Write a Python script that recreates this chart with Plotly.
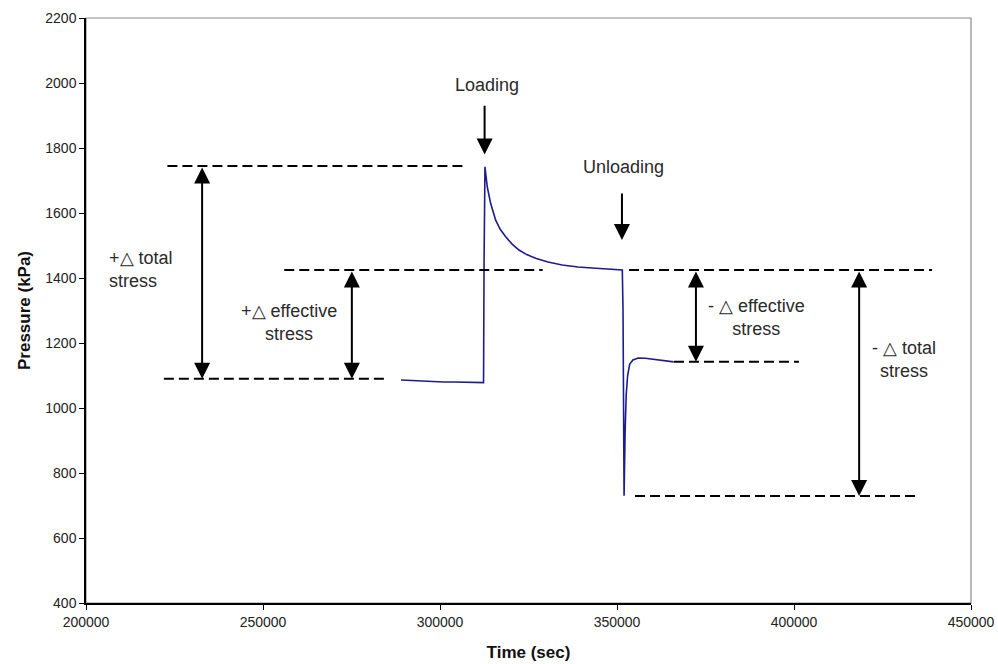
import plotly.graph_objects as go

# Measured pressure record (time in s, pressure in kPa)
time_s = [289000, 292000, 295000, 298000, 301000, 304000, 307000, 310000, 312300,
          312450, 312700, 313360, 314320, 315730, 317000, 318560, 320300, 322300,
          324500, 327000, 330500, 334500, 339000, 344000, 348000, 351500,
          351700, 351800, 352000, 352300, 352600, 353000, 353600,
          354500, 356000, 358000, 360000, 362000, 364000, 366000]
pressure_kpa = [1086, 1084, 1083, 1081, 1080, 1080, 1079, 1078, 1078,
                1450, 1742, 1680, 1629, 1578, 1550, 1527, 1505, 1486,
                1472, 1461, 1449, 1440, 1434, 1430, 1427, 1425,
                1300, 1050, 730, 930, 1040, 1100, 1135,
                1148, 1154, 1153, 1150, 1147, 1144, 1142]

# Reference levels (kPa) and their horizontal extents (s)
level_values = [1745, 1090, 1425, 1425, 1142, 729]
level_starts = [223000, 222000, 256000, 353400, 366100, 355100]
level_ends = [306800, 285000, 329000, 439000, 401400, 435500]

# Double-headed arrows: x position, top value, bottom value
arrow_x = [232800, 275100, 372300, 418400]
arrow_top = [1745, 1425, 1425, 1425]
arrow_bottom = [1090, 1090, 1142, 729]

# Event arrows (single, pointing down)
event_labels = ["Loading", "Unloading"]
event_x = [312600, 351400]
event_label_x = [313200, 351700]
event_label_y = [1994, 1742]
event_arrow_from = [1935, 1665]
event_arrow_to = [1780, 1517]

# Delta labels
delta_labels = ["+△ total<br>stress", "+△ effective<br>stress",
                "- △ effective<br>stress", "- △ total<br>stress"]
delta_x = [206000, 257300, 389300, 431200]
delta_y = [1425, 1262, 1280, 1148]
delta_align = ["left", "center", "center", "center"]
delta_xanchor = ["left", "center", "center", "center"]

FONT = "Liberation Sans, Arial"

fig = go.Figure()
fig.add_trace(go.Scatter(x=time_s, y=pressure_kpa, mode="lines",
                         line=dict(color="#1c1c8e", width=1.6),
                         showlegend=False, hoverinfo="skip"))

shapes = []
# plot frame (top/right gray)
shapes.append(dict(type="rect", xref="paper", yref="paper", x0=0, x1=1, y0=0, y1=1,
                   line=dict(color="#8a8a8a", width=1.2), layer="below"))
for v, a, b in zip(level_values, level_starts, level_ends):
    shapes.append(dict(type="line", xref="x", yref="y", x0=a, x1=b, y0=v, y1=v,
                       line=dict(color="black", width=2, dash="10px,5px")))

annotations = []
for x, t, b in zip(arrow_x, arrow_top, arrow_bottom):
    annotations.append(dict(x=x, y=b, ax=x, ay=t, xref="x", yref="y", axref="x", ayref="y",
                            text="", showarrow=True, arrowhead=2, startarrowhead=2,
                            arrowside="end+start", arrowsize=1.6, startarrowsize=1.6,
                            arrowwidth=2, arrowcolor="black"))
for lab, x, lx, ly, a0, a1 in zip(event_labels, event_x, event_label_x, event_label_y,
                                  event_arrow_from, event_arrow_to):
    annotations.append(dict(x=x, y=a1, ax=x, ay=a0, xref="x", yref="y", axref="x", ayref="y",
                            text="", showarrow=True, arrowhead=2, arrowsize=1.6,
                            arrowwidth=2, arrowcolor="black"))
    annotations.append(dict(x=lx, y=ly, xref="x", yref="y", text=lab, showarrow=False,
                            font=dict(family=FONT, size=18, color="#2a2a2a")))
for lab, x, y, al, xa in zip(delta_labels, delta_x, delta_y, delta_align, delta_xanchor):
    annotations.append(dict(x=x, y=y, xref="x", yref="y", text=lab, showarrow=False,
                            align=al, xanchor=xa,
                            font=dict(family=FONT, size=18, color="#2a2a2a")))

fig.update_layout(
    width=998, height=664,
    margin=dict(l=86, r=27, t=18, b=61),
    plot_bgcolor="white", paper_bgcolor="white",
    shapes=shapes, annotations=annotations,
    font=dict(family=FONT, color="#222"),
    xaxis=dict(range=[200000, 450000], tickvals=[200000, 250000, 300000, 350000, 400000, 450000],
               ticktext=["200000", "250000", "300000", "350000", "400000", "450000"],
               showgrid=False, zeroline=False, showline=True, linecolor="black", linewidth=1.5,
               ticks="outside", ticklen=5, tickcolor="black", tickfont=dict(size=14, color="#222"),
               automargin=False,
               title=dict(text="<b>Time (sec)</b>", font=dict(size=17, color="#111"), standoff=18)),
    yaxis=dict(range=[400, 2200], tickvals=[400, 600, 800, 1000, 1200, 1400, 1600, 1800, 2000, 2200],
               showgrid=False, zeroline=False, showline=True, linecolor="black", linewidth=1.5,
               ticks="outside", ticklen=5, tickcolor="black", tickfont=dict(size=14, color="#222"),
               automargin=False,
               title=dict(text="<b>Pressure (kPa)</b>", font=dict(size=17, color="#111"), standoff=10)),
)

fig.write_html("out.html")
